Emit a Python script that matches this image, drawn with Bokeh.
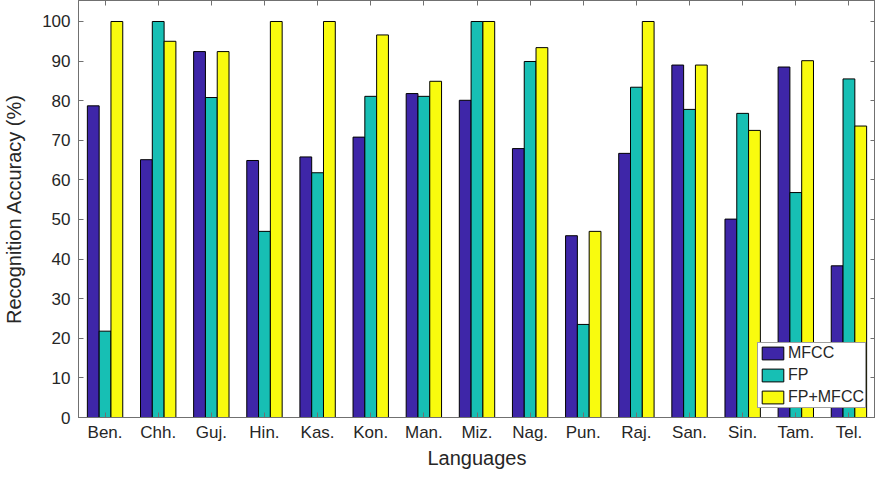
from bokeh.plotting import figure
from bokeh.models import (ColumnDataSource, Range1d, LinearAxis,
                          Legend, LegendItem, FixedTicker)
from bokeh.transform import dodge
from bokeh.embed import file_html
from bokeh.resources import INLINE

languages = ["Ben.", "Chh.", "Guj.", "Hin.", "Kas.", "Kon.", "Man.", "Miz.",
             "Nag.", "Pun.", "Raj.", "San.", "Sin.", "Tam.", "Tel."]
mfcc = [78.7, 65.1, 92.4, 64.9, 65.8, 70.8, 81.8, 80.1, 67.9, 45.9, 66.7, 89.0, 50.1, 88.5, 38.3]
fp = [21.8, 100.0, 80.8, 47.0, 61.8, 81.1, 81.1, 100.0, 89.9, 23.5, 83.4, 77.8, 76.8, 56.8, 85.5]
fp_mfcc = [100.0, 95.0, 92.4, 100.0, 100.0, 96.6, 84.9, 100.0, 93.4, 47.0, 100.0, 89.0, 72.5, 90.1, 73.6]
y_ticks = [0, 10, 20, 30, 40, 50, 60, 70, 80, 90, 100]

series_names = ["MFCC", "FP", "FP+MFCC"]
colors = ["#3E26A8", "#17BFB4", "#F9FB0E"]

pos = list(range(1, len(languages) + 1))   # group index, as in the original bar chart
src = ColumnDataSource(dict(pos=pos, lang=languages, mfcc=mfcc, fp=fp, fp_mfcc=fp_mfcc))

FONT = "Liberation Sans"
AX = "#707070"

p = figure(x_range=Range1d(0.5, len(languages) + 0.5),
           y_range=Range1d(0, 105.3),
           frame_width=797, frame_height=417,
           output_backend="svg", toolbar_location=None,
           min_border_left=73, min_border_right=0,
           min_border_top=0, min_border_bottom=0)

p.xgrid.visible = False
p.ygrid.visible = False
p.outline_line_color = AX
p.background_fill_color = "white"

bw = 0.222
renderers = []
for off, col, c in zip([-bw, 0, bw], ["mfcc", "fp", "fp_mfcc"], colors):
    r = p.vbar(x=dodge("pos", off), top=col, width=bw,
               bottom=0, source=src, fill_color=c, line_color="black", line_width=1)
    renderers.append(r)

for ax in [p.xaxis[0], p.yaxis[0]]:
    ax.axis_line_color = AX
    ax.major_tick_line_color = AX
    ax.major_tick_in = 5
    ax.major_tick_out = 0
    ax.minor_tick_line_color = None
    ax.major_label_text_font = FONT
    ax.major_label_text_font_size = "17px"
    ax.major_label_text_color = "#262626"
    ax.axis_label_text_font = FONT
    ax.axis_label_text_font_size = "20px"
    ax.axis_label_text_font_style = "normal"
    ax.axis_label_text_color = "#262626"

p.xaxis.ticker = FixedTicker(ticks=pos)
p.xaxis.major_label_overrides = {i: l for i, l in zip(pos, languages)}
p.yaxis.ticker = FixedTicker(ticks=y_ticks)
p.xaxis.axis_label = "Languages"
p.yaxis.axis_label = "Recognition Accuracy (%)"
p.xaxis.major_label_standoff = 5
p.xaxis.axis_label_standoff = 2
p.yaxis.major_label_standoff = 8
p.yaxis.axis_label_standoff = 14

top_ax = LinearAxis(ticker=FixedTicker(ticks=pos),
                    major_label_overrides={t: "" for t in pos},
                    major_label_text_font_size="1px", major_label_standoff=0,
                    axis_line_color=AX, major_tick_line_color=AX,
                    major_tick_in=5, major_tick_out=0, minor_tick_line_color=None)
p.add_layout(top_ax, "above")
right_ax = LinearAxis(ticker=FixedTicker(ticks=y_ticks),
                      major_label_overrides={t: "" for t in y_ticks},
                      major_label_text_font_size="1px", major_label_standoff=0,
                      axis_line_color=AX, major_tick_line_color=AX,
                      major_tick_in=5, major_tick_out=0, minor_tick_line_color=None)
p.add_layout(right_ax, "right")

legend = Legend(items=[LegendItem(label=n, renderers=[r]) for n, r in zip(series_names, renderers)],
                location="bottom_right",
                label_text_font=FONT, label_text_font_size="16px",
                label_text_color="#262626",
                glyph_width=27, glyph_height=16,
                spacing=4, padding=1, margin=9,
                label_standoff=2, label_height=16,
                border_line_color="#404040", border_line_width=1,
                background_fill_color="white", background_fill_alpha=1)
p.add_layout(legend, "center")

open("out.html", "w").write(file_html(p, INLINE))
